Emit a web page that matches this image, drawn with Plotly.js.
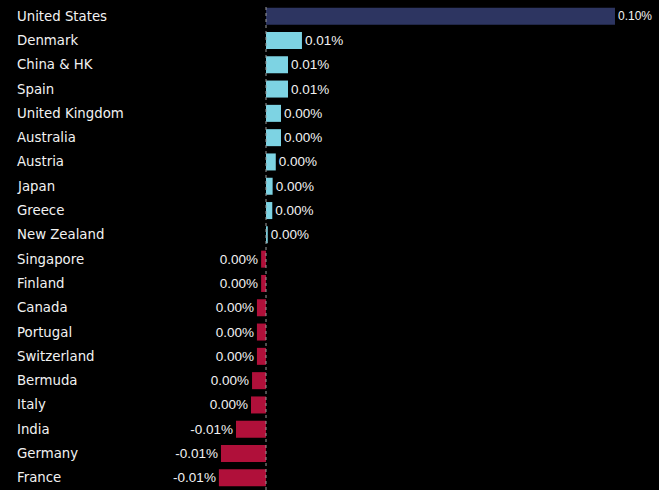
<!DOCTYPE html>
<html>
<head>
<meta charset="utf-8">
<script src="https://cdn.plot.ly/plotly-3.0.1.min.js"></script>
<style>
html,body{margin:0;padding:0;background:#000;}
#chart{width:659px;height:490px;}
</style>
</head>
<body>
<div id="chart"></div>
<script>
const countries = ["United States","Denmark","China & HK","Spain","United Kingdom","Australia","Austria","Japan","Greece","New Zealand","Singapore","Finland","Canada","Portugal","Switzerland","Bermuda","Italy","India","Germany","France"];
const values = [0.100,0.0103,0.0063,0.0063,0.0043,0.0043,0.0028,0.0019,0.0018,0.0005,-0.0014,-0.0014,-0.0026,-0.0026,-0.0026,-0.0040,-0.0043,-0.0086,-0.0129,-0.0135];

function fmt(v){
  let s = v.toFixed(2);
  if (parseFloat(s) === 0) s = "0.00";
  return s + "%";
}
const colors = values.map((v,i)=> i===0 ? "#2d3561" : (v>=0 ? "#7dd3e3" : "#b0103a"));
const textSizes = values.map((v,i)=> i===0 ? 12 : 13.5);

const trace = {
  type: "bar",
  orientation: "h",
  y: countries,
  x: values,
  text: values.map(fmt),
  textposition: "outside",
  constraintext: "none",
  cliponaxis: false,
  textfont: {family: "Liberation Sans, Arial, sans-serif", size: textSizes, color: "#f2f2f2"},
  marker: {color: colors, line: {width: 0}},
  hoverinfo: "none"
};

const annotations = countries.map(c => ({
  xref: "paper", yref: "y", x: 15/659, y: c, xanchor: "left", yanchor: "middle",
  text: c, showarrow: false,
  font: {family: "DejaVu Sans, sans-serif", size: 13.3, color: "#f2f2f2"}
}));

const layout = {
  width: 659, height: 490,
  margin: {l: 0, r: 0, t: 4, b: 0, pad: 0},
  paper_bgcolor: "#000", plot_bgcolor: "#000",
  showlegend: false,
  bargap: 0.3,
  xaxis: {range: [-0.07622, 0.11261], showgrid: false, zeroline: false, showticklabels: false, ticks: "", fixedrange: true},
  yaxis: {autorange: false, range: [19.5, -0.5], type: "category", showgrid: false, zeroline: false, showticklabels: false, ticks: "", fixedrange: true},
  shapes: [{type: "line", xref: "x", yref: "paper", x0: 0, x1: 0, y0: 0, y1: 1, line: {color: "#9a9a9a", width: 1, dash: "dot"}}],
  annotations: annotations
};

Plotly.newPlot("chart", [trace], layout, {displayModeBar: false, staticPlot: true});
</script>
</body>
</html>
